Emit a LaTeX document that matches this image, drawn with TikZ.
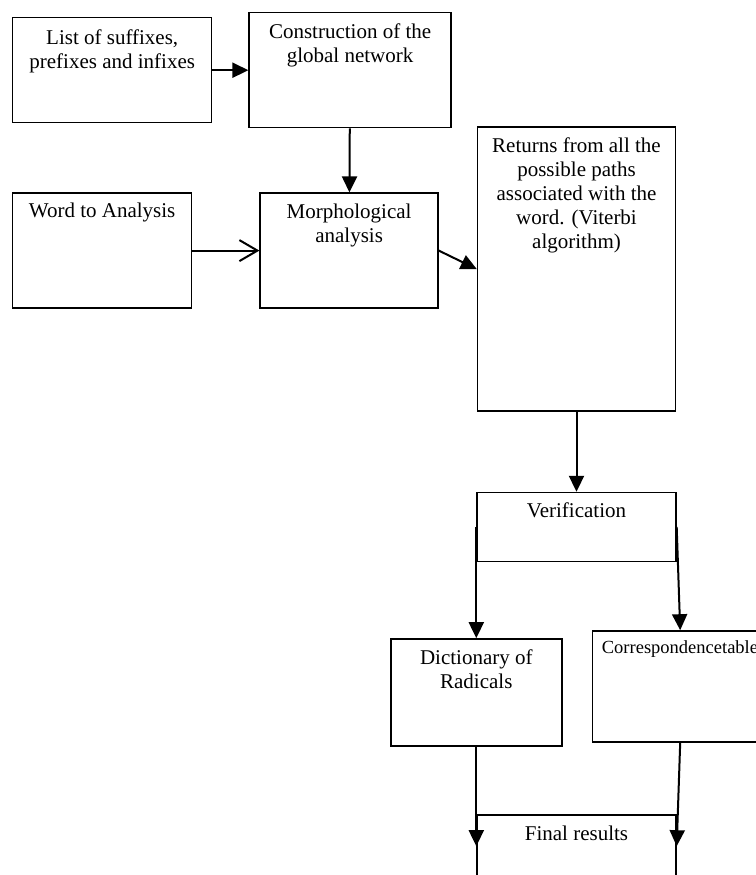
\documentclass[tikz,border=0pt]{standalone}
\usepackage{fontspec}
\setmainfont{Liberation Serif}
\usetikzlibrary{arrows.meta, positioning}
\tikzset{
	blk/.style  ={rectangle, draw=black, line width=0.7pt, inner sep=0pt},
	btxt/.style ={align=center, inner sep=0pt, font=\fontsize{10.5}{12}\selectfont},
	arr/.style  ={-{Triangle[length=8pt, width=7.5pt]}, line width=1pt},
	openarr/.style={-{Straight Barb[length=9pt, width=10.5pt]}, line width=1pt},
}
\begin{document}
\begin{tikzpicture}
	\useasboundingbox (0pt,0pt) rectangle (378pt,-437.5pt);
	% boxes
	\node[blk, minimum width=99.5pt, minimum height=52.5pt, anchor=north west] (suff) at (6pt,-8.5pt) {};
	\node[blk, minimum width=101pt, minimum height=57.5pt, right=18pt of suff] (net) {};
	\node[blk, minimum width=89.5pt, minimum height=57.5pt, below=34.5pt of suff.south west, anchor=north west] (word) {};
	\node[blk, minimum width=89pt, minimum height=57.5pt, right=33.5pt of word] (morph) {};
	\node[blk, minimum width=99pt, minimum height=142pt, right=19pt of morph, yshift=-9.25pt] (paths) {};
	\node[blk, minimum width=99.5pt, minimum height=34.5pt, below=40pt of paths] (verif) {};
	\node[blk, minimum width=85.5pt, minimum height=53.5pt, below=38pt of verif.south west] (dict) {};
	\node[blk, minimum width=88pt, minimum height=55.5pt, right=14.5pt of dict.north east, anchor=north west, yshift=4pt] (corr) {};
	\node[blk, minimum width=99.5pt, minimum height=50pt, below=126pt of verif] (final) {};
	% texts
	\node[btxt, below=6pt of suff.north] (suff-t) {List of suffixes,\\ prefixes and infixes};
	\node[btxt, below=5.5pt of net.north] (net-t) {Construction of the\\ global network};
	\node[btxt, below=5pt of word.north] (word-t) {Word to Analysis};
	\node[btxt, below=5.5pt of morph.north] (morph-t) {Morphological\\ analysis};
	\node[btxt, below=5.5pt of paths.north] (paths-t) {Returns from all the\\ possible paths\\ associated with the\\ word. (Viterbi\\ algorithm)};
	\node[btxt, below=5.5pt of verif.north] (verif-t) {Verification};
	\node[btxt, below=5.5pt of dict.north] (dict-t) {Dictionary of\\ Radicals};
	\node[btxt, font=\fontsize{9.25}{11}\selectfont, below right=5pt and 5pt of corr.north west, anchor=north west] (corr-t) {Correspondencetable};
	\node[btxt, below=5.5pt of final.north] (final-t) {Final results};
	\coordinate (fin-l) at ([yshift=-16pt]final.north west);
	\coordinate (fin-r) at ([yshift=-16pt]final.north east);
	% connectors
	\draw[arr] (suff) -- (net);
	\draw[arr] (net) -- (morph);
	\draw[openarr] (word) -- (morph);
	\draw[arr] (morph.east) -- (paths.west);
	\draw[arr] (paths) -- (verif);
	\draw[arr] (verif.west) -- (dict.north);
	\draw[arr] (verif.east) -- (corr.north);
	\draw[arr] (dict.south) -- (fin-l);
	\draw[arr] (corr.south) -- (fin-r);
\end{tikzpicture}
\end{document}
